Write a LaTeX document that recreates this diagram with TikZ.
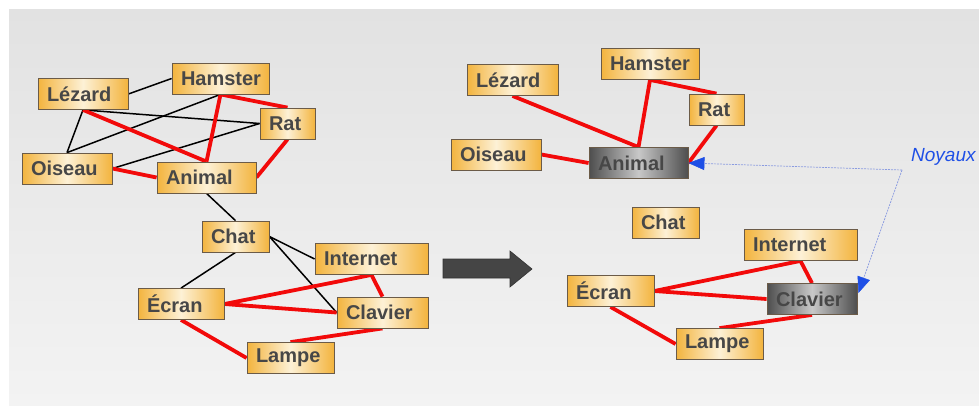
\documentclass[tikz,border=0pt]{standalone}
\usepackage{fontspec}
\setmainfont{Liberation Sans}
\usetikzlibrary{arrows.meta,calc}
\pgfdeclarelayer{bg}
\pgfdeclarelayer{edges}
\pgfsetlayers{bg,edges,main}
\definecolor{orL}{HTML}{F3B43E}
\definecolor{orM}{HTML}{FDF1D6}
\definecolor{grL}{HTML}{4E4E4E}
\definecolor{grM}{HTML}{C8C8C8}
\definecolor{bord}{HTML}{6B5B48}
\definecolor{txt}{HTML}{474747}
\definecolor{redl}{HTML}{F20A0A}
\definecolor{bluet}{HTML}{1E4FE6}
\definecolor{bluel}{HTML}{8A9BE0}
\definecolor{bgtop}{HTML}{E2E2E2}
\definecolor{bgbot}{HTML}{F3F3F3}
\definecolor{arrowc}{HTML}{454545}
\tikzset{
  obox/.style={draw=bord, line width=0.8pt, left color=orL, right color=orL, middle color=orM,
    minimum height=31pt, inner xsep=9pt, inner ysep=0pt, text=txt, align=left,
    font=\fontsize{20pt}{22pt}\selectfont\bfseries},
  gbox/.style={obox, left color=grL, right color=grL, middle color=grM},
  blk/.style={line width=1.5pt, black},
  rd/.style={line width=3.8pt, redl},
  kern/.style={bluel, line width=0.7pt, dash pattern=on 2pt off 1pt,
    -{Triangle[length=16pt,width=13pt,fill=bluet,color=bluet,line width=0.5pt]}},
  bigarrow/.style={fill=arrowc, draw=black!80, line width=0.6pt}
}
\begin{document}
\begin{tikzpicture}[x=1pt,y=-1pt]
\useasboundingbox (0,0) rectangle (979,407);
\begin{pgfonlayer}{bg}
  \fill[top color=bgtop, bottom color=bgbot] (9,9) rectangle (979,405);
\end{pgfonlayer}

% ---- left graph ----
\node[obox, minimum width=90pt, text width=72pt] (lz) at (83,94) {Lézard};
\node[obox, minimum width=97pt, text width=79pt] (ha) at (220.5,78.5) {Hamster};
\node[obox, minimum width=55pt, text width=37pt] (ra) at (287.5,123.5) {Rat};
\node[obox, minimum width=90pt, text width=72pt] (oi) at (67,168.5) {Oiseau};
\node[obox, minimum width=99pt, text width=81pt] (an) at (206.5,177.5) {Animal};
\node[obox, minimum width=67pt, text width=49pt] (ch) at (235.5,236.5) {Chat};
\node[obox, minimum width=113pt, text width=95pt] (in) at (371.5,259) {Internet};
\node[obox, minimum width=86pt, text width=68pt] (ec) at (181,304) {Écran};
\node[obox, minimum width=91pt, text width=73pt] (cl) at (382.5,312.5) {Clavier};
\node[obox, minimum width=87pt, text width=69pt] (la) at (290.5,358) {Lampe};

% ---- right graph ----
\node[obox, minimum width=91pt, text width=73pt] (rlz) at (512.5,80) {Lézard};
\node[obox, minimum width=98pt, text width=80pt] (rha) at (650,64) {Hamster};
\node[obox, minimum width=55pt, text width=37pt] (rra) at (716.5,109.5) {Rat};
\node[obox, minimum width=90pt, text width=72pt] (roi) at (496,154.5) {Oiseau};
\node[gbox, minimum width=99pt, text width=81pt] (ran) at (638.5,163) {Animal};
\node[obox, minimum width=67pt, text width=49pt] (rch) at (665.5,222.5) {Chat};
\node[obox, minimum width=113pt, text width=95pt] (rin) at (800.5,245) {Internet};
\node[obox, minimum width=87pt, text width=69pt] (rec) at (610.5,291) {Écran};
\node[gbox, minimum width=90pt, text width=72pt] (rcl) at (812,299) {Clavier};
\node[obox, minimum width=87pt, text width=69pt] (rla) at (719.5,344) {Lampe};

\node[anchor=west, inner sep=0pt, text=bluet, font=\fontsize{19pt}{21pt}\selectfont\itshape] (noy) at (911,157) {Noyaux};
\coordinate (corner) at (902,170);

\begin{pgfonlayer}{edges}
  % left black
  \draw[blk] (lz.east) -- (ha.west);
  \draw[blk] (lz.south) -- (oi.north);
  \draw[blk] (lz.south) -- (ra.west);
  \draw[blk] (oi.north) -- (ha.south);
  \draw[blk] (oi.east) -- (ra.west);
  \draw[blk] (an.south) -- (ch.north);
  \draw[blk] (ch.south) -- (ec.north);
  \draw[blk] (ch.east) -- (in.west);
  \draw[blk] (ch.east) -- (cl.west);
  % left red
  \draw[rd] (ha.south) -- (ra.north);
  \draw[rd] (ha.south) -- (an.north);
  \draw[rd] (lz.south) -- (an.north);
  \draw[rd] (ra.south) -- (an.east);
  \draw[rd] (oi.east) -- (an.west);
  \draw[rd] (ec.east) -- (in.south);
  \draw[rd] (in.south) -- (cl.north);
  \draw[rd] (ec.east) -- (cl.west);
  \draw[rd] (ec.south) -- (la.west);
  \draw[rd] (cl.south) -- (la.north);
  % right red
  \draw[rd] (rha.south) -- (rra.north);
  \draw[rd] (rha.south) -- (ran.north);
  \draw[rd] (rlz.south) -- (ran.north);
  \draw[rd] (rra.south) -- (ran.east);
  \draw[rd] (roi.east) -- (ran.west);
  \draw[rd] (rec.east) -- (rin.south);
  \draw[rd] (rin.south) -- (rcl.north);
  \draw[rd] (rec.east) -- (rcl.west);
  \draw[rd] (rec.south) -- (rla.west);
  \draw[rd] (rcl.south) -- (rla.north);
\end{pgfonlayer}

% blue kernel arrows
\draw[kern] (corner) -- (ran.east);
\draw[kern] (corner) -- ($(rcl.east)+(1,-6)$);

% big arrow
\draw[bigarrow] (443,259) -- (510,259) -- (510,251) -- (532,269) -- (510,287) -- (510,278) -- (443,278) -- cycle;
\end{tikzpicture}
\end{document}
